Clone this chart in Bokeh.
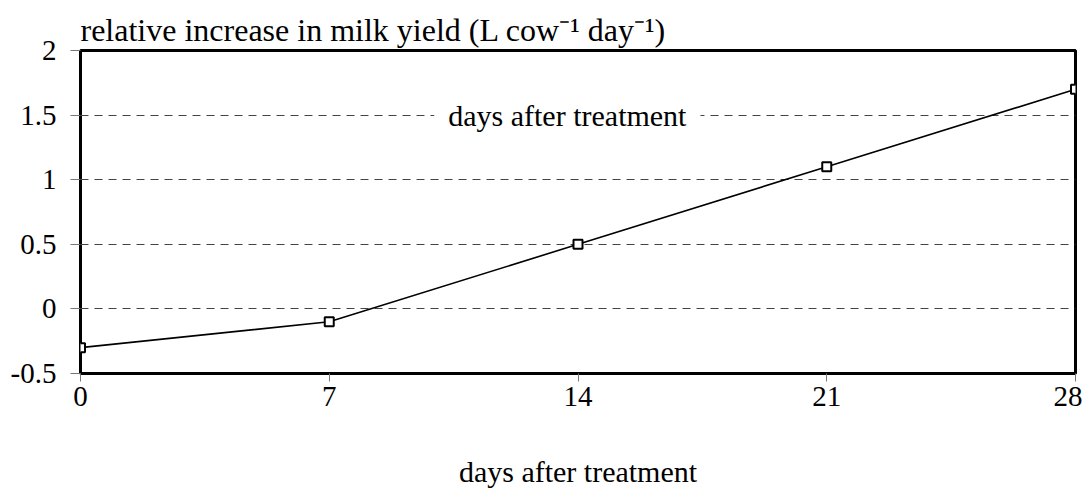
from bokeh.plotting import figure
from bokeh.models import FixedTicker, Label, Range1d
from bokeh.embed import file_html
from bokeh.resources import INLINE

days = [0, 7, 14, 21, 28]
increase = [-0.3, -0.1, 0.5, 1.1, 1.7]
y_ticks = [-0.5, 0, 0.5, 1, 1.5, 2]
y_tick_labels = {-0.5: "-0.5", 0: "0", 0.5: "0.5", 1: "1", 1.5: "1.5", 2: "2"}
title_text = "relative increase in milk yield (L cow\u207b\u00b9 day\u207b\u00b9)"
x_label = "days after treatment"
inner_label = "days after treatment"

FONT = "Liberation Serif"
FS = "29px"

p = figure(width=1082, height=490, output_backend="svg", toolbar_location=None,
           x_range=Range1d(0, 28), y_range=Range1d(-0.5, 2),
           min_border_left=80, min_border_right=7, min_border_top=50, min_border_bottom=117)

p.title.text = title_text
p.title.text_font = FONT
p.title.text_font_size = "32px"
p.title.text_font_style = "normal"
p.title.text_color = "black"
p.title.align = "left"
p.title.standoff = 5
p.title.offset = 0

p.outline_line_color = "black"
p.outline_line_width = 3
p.background_fill_color = "white"
p.border_fill_color = "white"

p.xgrid.grid_line_color = None
p.ygrid.grid_line_color = "#444444"
p.ygrid.grid_line_dash = "8 6"
p.ygrid.grid_line_width = 1
p.ygrid.ticker = FixedTicker(ticks=y_ticks)

for ax in (p.xaxis, p.yaxis):
    ax.axis_line_color = None
    ax.major_tick_line_color = "#777777"
    ax.major_tick_line_width = 1
    ax.minor_tick_line_color = None
    ax.major_tick_in = 0
    ax.major_label_text_font = FONT
    ax.major_label_text_font_size = FS
    ax.major_label_text_color = "black"

p.xaxis.ticker = FixedTicker(ticks=days)
p.xaxis.major_tick_out = 8
p.xaxis.major_label_standoff = 5
p.xaxis.axis_label = x_label
p.xaxis.axis_label_text_font = FONT
p.xaxis.axis_label_text_font_size = "30px"
p.xaxis.axis_label_text_font_style = "normal"
p.xaxis.axis_label_text_color = "black"
p.xaxis.axis_label_standoff = 46

p.yaxis.ticker = FixedTicker(ticks=y_ticks)
p.yaxis.major_label_overrides = y_tick_labels
p.yaxis.major_tick_out = 10
p.yaxis.major_label_standoff = 14

p.line(days, increase, line_color="black", line_width=1.6)
p.scatter(days, increase, marker="square", size=9, fill_color="white",
          line_color="black", line_width=2)

p.add_layout(Label(x=13.7, y=1.5, text=inner_label, text_font=FONT, text_font_size="30px",
                   text_color="black", text_align="center", text_baseline="middle",
                   background_fill_color="white", padding=14))

open("out.html", "w").write(file_html(p, INLINE))
